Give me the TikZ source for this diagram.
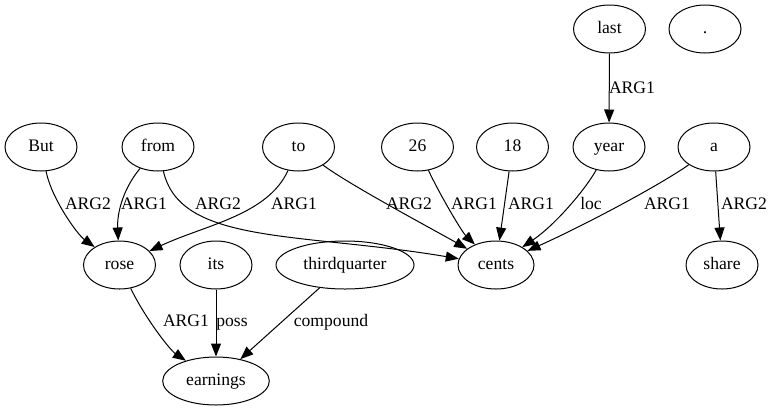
\documentclass[tikz,border=0pt]{standalone}
\usepackage{fontspec}
\setmainfont{Liberation Serif}
\usetikzlibrary{arrows.meta,shapes.geometric}

\tikzset{
  word/.style={draw, ellipse, minimum width=54pt, minimum height=36pt, inner sep=1pt,
    text height=9pt, text depth=3pt},
  rel/.style={inner sep=0pt, text height=9pt, text depth=3pt},
}

\begin{document}
\begin{tikzpicture}[>={Triangle[length=9.75pt,width=7.5pt]}, x=0.75pt, y=-0.75pt,
    line width=0.75pt, font=\fontsize{13.2}{15}\selectfont]
  \useasboundingbox (0,0) rectangle (773,411);
  % top row
  \node[word] (last) at (609.5,29) {last};
  \node[word] (dot) at (705,29) {.};
  % second row
  \node[word] (But) at (41,147) {But};
  \node[word] (from) at (158,147) {from};
  \node[word] (to) at (298.5,147) {to};
  \node[word] (n26) at (417.5,147) {26};
  \node[word] (n18) at (512.5,147) {18};
  \node[word] (year) at (609,147) {year};
  \node[word] (a) at (714,147) {a};
  % third row
  \node[word] (rose) at (119.5,265) {rose};
  \node[word] (its) at (216,265) {its};
  \node[word, minimum width=103.5pt] (third) at (345,265) {thirdquarter};
  \node[word, minimum width=57pt] (cents) at (496,265) {cents};
  \node[word] (share) at (722,265) {share};
  % bottom
  \node[word, minimum width=80pt] (earn) at (216,381) {earnings};

  \draw[->] (last) -- (year) node[rel] at (632,89) {ARG1};
  \draw[->] (But) .. controls (52,200) and (78,235) .. (rose) node[rel] at (88,205) {ARG2};
  \draw[->] (from) .. controls (122,190) and (117,215) .. (rose) node[rel] at (144,205) {ARG1};
  \draw[->] (from) .. controls (180,245) and (300,232) .. (cents) node[rel] at (218,205) {ARG2};
  \draw[->] (to) .. controls (268,215) and (205,225) .. (rose) node[rel] at (294,205) {ARG1};
  \draw[->] (to) .. controls (350,185) and (425,225) .. (cents) node[rel] at (409,205) {ARG2};
  \draw[->] (n26) .. controls (440,195) and (462,232) .. (cents) node[rel] at (474,205) {ARG1};
  \draw[->] (n18) -- (cents) node[rel] at (531,205) {ARG1};
  \draw[->] (year) .. controls (585,190) and (555,225) .. (cents) node[rel] at (591,205) {loc};
  \draw[->] (a) .. controls (660,185) and (585,225) .. (cents) node[rel] at (667,205) {ARG1};
  \draw[->] (a) -- (share) node[rel] at (744,205) {ARG2};
  \draw[->] (rose) .. controls (145,318) and (170,350) .. (earn) node[rel] at (186,322) {ARG1};
  \draw[->] (its) -- (earn) node[rel] at (232,322) {poss};
  \draw[->] (third) -- (earn) node[rel] at (331,322) {compound};
\end{tikzpicture}
\end{document}
